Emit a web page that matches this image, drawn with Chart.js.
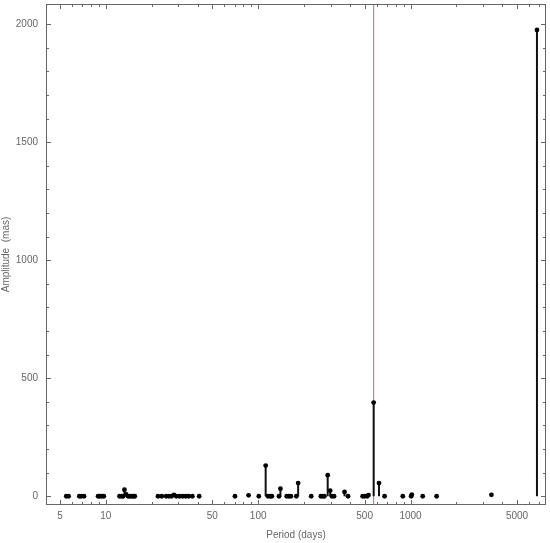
<!DOCTYPE html>
<html>
<head>
<meta charset="utf-8">
<script src="https://cdn.jsdelivr.net/npm/chart.js@4/dist/chart.umd.min.js"></script>
<style>
  html, body { margin: 0; padding: 0; background: #fff; }
  #wrap { width: 550px; height: 543px; }
</style>
</head>
<body>
<div id="wrap"><canvas id="periodChart"></canvas></div>
<script>
// Periods (days) and amplitudes (mas)
const periods = [
  5.5, 5.7,
  6.7, 6.9, 7.2,
  8.9, 9.1, 9.4, 9.7,
  12.3, 12.7, 13.0, 13.25, 13.6, 14.0, 14.4, 14.8, 15.2, 15.5,
  22.0, 23.3,
  24.9, 26, 27, 28, 29, 30.5, 32, 33.5, 35, 37, 41,
  70.4, 86.5, 101, 112, 116, 120, 123, 137, 140, 154, 159, 164, 178, 183,
  223, 258, 266, 272, 286, 297, 305, 315, 369, 389,
  485, 500, 520, 530, 573, 621, 676, 890, 1010, 1020, 1202, 1484, 3396, 6760
];
const amplitudes = [
  0, 0,
  0, 0, 0,
  0, 0, 0, 0,
  0, 0, 0, 28, 8, 0, 0, 0, 0, 0,
  0, 0,
  0, 0, 0, 6, 0, 0, 0, 0, 0, 0, 0,
  0, 4, 0, 130, 0, 0, 0, 0, 32, 0, 0, 0, 0, 56,
  0, 0, 0, 0, 89, 24, 0, 0, 18, 0,
  0, 0, 0, 5, 397, 56, 0, 0, 0, 7, 0, 0, 6, 1975
];
const xTickLabels = [5, 10, 50, 100, 500, 1000, 5000];
const yTickLabels = [0, 500, 1000, 1500, 2000];
const yMinorStep = 100;
const markerPeriod = 573;

const axisColor = '#666';
const font = { family: 'Liberation Sans', size: 10 };

// stems: pairs of points from 0 to the amplitude, split by gaps
const stemData = [];
periods.forEach((p, i) => {
  stemData.push({ x: p, y: 0 }, { x: p, y: amplitudes[i] }, { x: p, y: null });
});

// Frame with inward ticks on all four sides (Mathematica style)
const framePlugin = {
  id: 'frame',
  afterDraw(chart) {
    const { ctx, chartArea: a, scales: { x, y } } = chart;
    ctx.save();
    ctx.strokeStyle = axisColor;
    ctx.lineWidth = 1;
    ctx.strokeRect(a.left + 0.5, a.top + 0.5, a.right - a.left - 1, a.bottom - a.top - 1);
    ctx.beginPath();
    x.ticks.forEach(t => {
      const px = Math.round(x.getPixelForValue(t.value)) + 0.5;
      const len = xTickLabels.includes(t.value) ? 5 : 3;
      ctx.moveTo(px, a.bottom); ctx.lineTo(px, a.bottom - len);
      ctx.moveTo(px, a.top); ctx.lineTo(px, a.top + len);
    });
    y.ticks.forEach(t => {
      const py = Math.round(y.getPixelForValue(t.value)) + 0.5;
      const len = yTickLabels.includes(t.value) ? 5 : 3;
      ctx.moveTo(a.left, py); ctx.lineTo(a.left + len, py);
      ctx.moveTo(a.right, py); ctx.lineTo(a.right - len, py);
    });
    ctx.stroke();
    ctx.restore();
  }
};

new Chart(document.getElementById('periodChart'), {
  type: 'scatter',
  data: {
    datasets: [
      {
        label: 'marker',
        data: [{ x: markerPeriod, y: -100 }, { x: markerPeriod, y: 2200 }],
        showLine: true,
        borderColor: 'rgb(235, 90, 100)',
        borderWidth: 1,
        pointRadius: 0,
        order: 3
      },
      {
        label: 'stems',
        data: stemData,
        showLine: true,
        spanGaps: false,
        borderColor: '#111',
        borderWidth: 2,
        pointRadius: 0,
        order: 2
      },
      {
        label: 'peaks',
        data: periods.map((p, i) => ({ x: p, y: amplitudes[i] })),
        backgroundColor: '#000',
        borderColor: '#000',
        pointRadius: 2.4,
        borderWidth: 0,
        order: 1
      }
    ]
  },
  options: {
    responsive: true,
    maintainAspectRatio: false,
    animation: false,
    layout: { padding: { top: 4, right: 1, left: 0, bottom: 0 } },
    plugins: {
      legend: { display: false },
      tooltip: { enabled: false }
    },
    scales: {
      x: {
        type: 'logarithmic',
        min: 4.05,
        max: 7750,
        border: { display: false },
        grid: { display: false, drawTicks: false },
        afterBuildTicks: (scale) => {
          const ticks = [];
          for (let d = 1; d <= 1000; d *= 10) {
            for (let m = 1; m <= 9; m++) {
              const v = m * d;
              if (v >= scale.min && v <= scale.max) ticks.push({ value: v });
            }
          }
          scale.ticks = ticks;
        },
        afterFit: (scale) => {
          scale.height = 38;
          scale.paddingLeft = 0;
          scale.paddingRight = 0;
        },
        ticks: {
          autoSkip: false,
          maxRotation: 0,
          padding: 5,
          color: axisColor,
          font,
          callback: (v) => xTickLabels.includes(v) ? String(v) : ''
        },
        title: {
          display: true,
          text: 'Period (days)',
          color: axisColor,
          font,
          padding: { top: 0, bottom: 2 }
        }
      },
      y: {
        type: 'linear',
        min: -37,
        max: 2085,
        border: { display: false },
        grid: { display: false, drawTicks: false },
        afterBuildTicks: (scale) => {
          const top = yTickLabels[yTickLabels.length - 1];
          const ticks = [];
          for (let v = yTickLabels[0]; v <= top; v += yMinorStep) ticks.push({ value: v });
          scale.ticks = ticks;
        },
        afterFit: (scale) => {
          scale.width = 46;
          scale.paddingTop = 0;
          scale.paddingBottom = 0;
        },
        ticks: {
          autoSkip: false,
          padding: 8,
          color: axisColor,
          font,
          callback: (v) => yTickLabels.includes(v) ? String(v) : ''
        },
        title: {
          display: true,
          text: 'Amplitude  (mas)',
          color: axisColor,
          font,
          padding: 0
        }
      }
    }
  },
  plugins: [framePlugin]
});
</script>
</body>
</html>
